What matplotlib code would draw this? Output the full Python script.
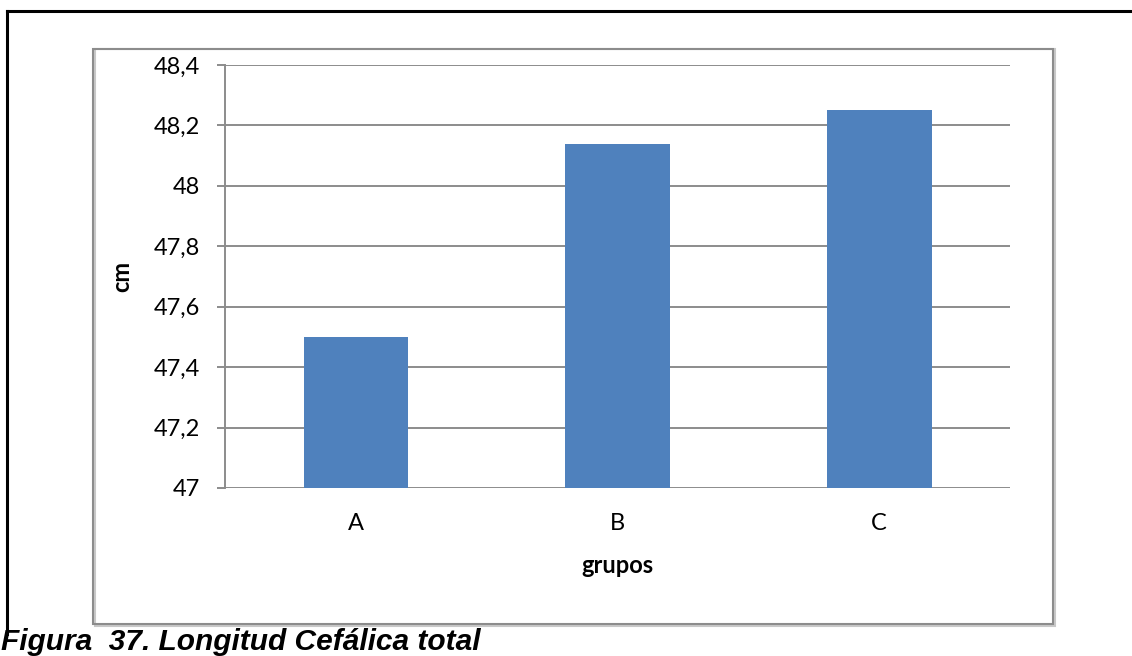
import matplotlib.pyplot as plt
from matplotlib.patches import Rectangle
from matplotlib.lines import Line2D
from matplotlib.ticker import FuncFormatter

# longitud cefálica media por grupo (cm)
grupos = ["A", "B", "C"]
longitud = [47.50, 48.14, 48.25]
y_ticks = [47.0, 47.2, 47.4, 47.6, 47.8, 48.0, 48.2, 48.4]

W, H = 1132, 656
fig = plt.figure(figsize=(W / 100, H / 100), dpi=100)
fig.patch.set_facecolor("white")

plt.rcParams["font.family"] = ["Lato", "DejaVu Sans"]

# page frame (top and left edges) and chart border
fig.add_artist(Line2D([7 / W, 1.0], [1 - 11 / H, 1 - 11 / H], color="black", lw=2.2))
fig.add_artist(Line2D([7 / W, 7 / W], [1 - 11 / H, 1 - 634 / H], color="black", lw=2.2))
fig.add_artist(Rectangle((95 / W, 1 - 626 / H), 960 / W, 577 / H, fill=False,
                         edgecolor="#c8c8c8", lw=1.5))
fig.add_artist(Rectangle((93 / W, 1 - 624 / H), 960 / W, 575 / H, fill=False,
                         edgecolor="#8c8c8c", lw=1.5))

ax = fig.add_axes([225 / W, 1 - 488 / H, 785 / W, 423 / H])
x = range(len(grupos))
ax.bar(x, longitud, width=0.40, color="#4f81bd", zorder=3)

ax.set_ylim(47.0, 48.4)
ax.set_xlim(-0.5, 2.5)
ax.set_yticks(y_ticks)
ax.yaxis.set_major_formatter(FuncFormatter(lambda v, p: f"{v:g}".replace(".", ",")))
ax.set_xticks(list(x))
ax.set_xticklabels(grupos)

ax.grid(axis="y", color="#8c8c8c", lw=1.4, zorder=0)
for s in ["top", "right", "bottom"]:
    ax.spines[s].set_visible(False)
ax.spines["left"].set_color("#8c8c8c")
ax.spines["left"].set_linewidth(1.4)

ax.tick_params(axis="y", length=6, width=1.4, color="#8c8c8c", pad=12,
               labelsize=17, labelcolor="black")
ax.tick_params(axis="x", length=0, pad=18, labelsize=17, labelcolor="black")

ax.set_ylabel("cm", fontsize=17, fontweight="bold")
ax.yaxis.set_label_coords(-0.117, 0.5)
ax.set_xlabel("grupos", fontsize=17, fontweight="bold")
ax.xaxis.set_label_coords(0.5, -0.155)

fig.text(1 / W, 1 - 650 / H, "Figura  37. Longitud Cefálica total",
         family="Liberation Sans", fontsize=21.5, fontweight="bold",
         fontstyle="italic", ha="left", va="baseline")

fig.savefig("out.png", dpi=100, facecolor="white")
